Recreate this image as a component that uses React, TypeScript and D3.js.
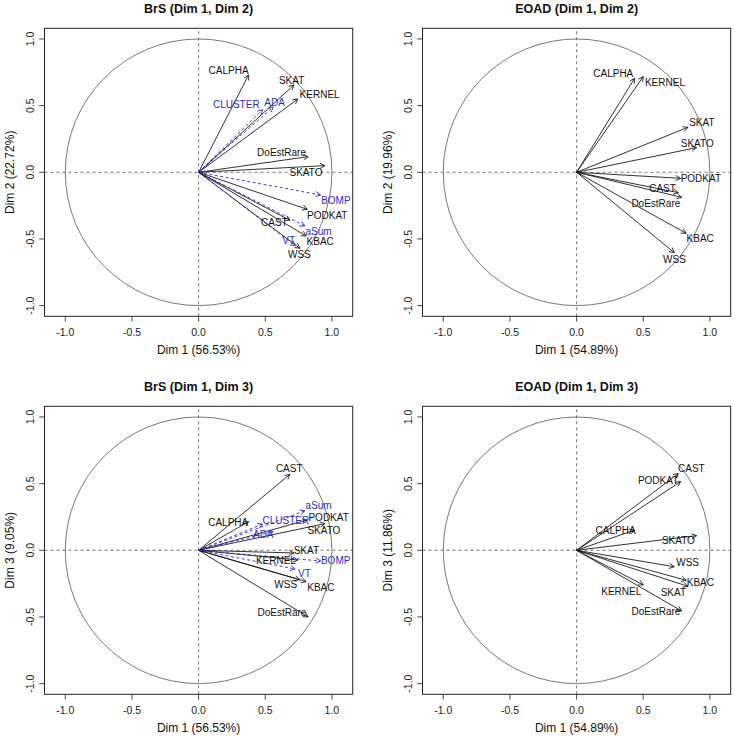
import React from "react";
import * as d3 from "d3";

// ---------- data ----------
const ticks = [-1, -0.5, 0, 0.5, 1];
const tickLabels = ["-1.0", "-0.5", "0.0", "0.5", "1.0"];

const brsPct = [56.53, 22.72, 9.05];
const eoadPct = [54.89, 19.96, 11.86];

// BrS active variables
const brsVars = ["CALPHA", "SKAT", "KERNEL", "DoEstRare", "SKATO", "PODKAT", "CAST", "KBAC", "WSS"];
const brsDim1 = [0.375, 0.715, 0.745, 0.822, 0.948, 0.815, 0.685, 0.807, 0.76];
const brsDim2 = [0.73, 0.655, 0.55, 0.1175, 0.05, -0.2775, -0.36, -0.4775, -0.57];
const brsDim3 = [0.215, -0.02, -0.073, -0.5, 0.2, 0.227, 0.57, -0.235, -0.22];

// BrS supplementary variables
const brsSupVars = ["CLUSTER", "ADA", "BOMP", "aSum", "VT"];
const brsSupDim1 = [0.48, 0.56, 0.915, 0.797, 0.725];
const brsSupDim2 = [0.47, 0.49, -0.17, -0.4025, -0.55];
const brsSupDim3 = [0.197, 0.14, -0.08, 0.297, -0.14];

// EOAD variables
const eoadVars = ["CALPHA", "KERNEL", "SKAT", "SKATO", "PODKAT", "CAST", "DoEstRare", "KBAC", "WSS"];
const eoadDim1 = [0.435, 0.5, 0.835, 0.9, 0.78, 0.763, 0.788, 0.822, 0.733];
const eoadDim2 = [0.705, 0.7175, 0.3375, 0.185, -0.045, -0.1525, -0.1875, -0.4575, -0.6025];
const eoadDim3 = [0.152, -0.26, -0.27, 0.11, 0.515, 0.575, -0.455, -0.225, -0.123];

// ---------- label placement (pixel offsets of label centre from arrow tip) ----------
const labelOffsets: Record<string, Record<string, [number, number]>> = {
  p1: {
    CALPHA: [-20, -4.7], SKAT: [-2.3, -4.7], KERNEL: [21.7, -5], CLUSTER: [-26.3, -5.6], ADA: [1.4, -5],
    DoEstRare: [-26.6, -4.1], SKATO: [-19, 6.7], BOMP: [15.3, 5.3], PODKAT: [20, 5.7], aSum: [13.7, 5.3],
    CAST: [-15.5, 2.2], KBAC: [14, 5.5], VT: [-6.5, -5.4], WSS: [-0.5, 5.9],
  },
  p2: {
    CALPHA: [-21.3, -5], KERNEL: [21.7, 5.5], SKAT: [14, -4.8], SKATO: [0.7, -4.2], PODKAT: [20.3, 0.5],
    CAST: [-15.8, -4.2], DoEstRare: [-25.8, 5.8], KBAC: [14, 5.5], WSS: [0.2, 6.5],
  },
  p3: {
    CAST: [-0.7, -5.5], aSum: [13.8, -4.9], PODKAT: [21.4, -2.5], CLUSTER: [23.3, -3.5], SKATO: [-1.1, 6.4],
    CALPHA: [-20.4, 1.2], ADA: [-10, 2.4], SKAT: [12.5, -2.3], KERNEL: [-22, 0.5], BOMP: [15.1, -0.2],
    VT: [9.2, 4.5], WSS: [-14.2, 4.4], KBAC: [14.7, 6], DoEstRare: [-26.3, -4.5],
  },
  p4: {
    CAST: [13.1, -5.4], PODKAT: [-22.5, -0.8], CALPHA: [-19, 0.5], SKATO: [-18.2, 4.9], WSS: [13.3, -4.5],
    KBAC: [14.2, 1.9], SKAT: [-14.5, 6.2], KERNEL: [-22, 6], DoEstRare: [-25.7, 0.8],
  },
};

const FONT = "'Liberation Sans', Arial, Helvetica, sans-serif";
const BLUE = "#2b2bc0";

type V = { name: string; x: number; y: number; sup: boolean };

function Panel(props: {
  id: string; ox: number; oy: number; title: string; xLab: string; yLab: string; vars: V[];
}) {
  const { id, ox, oy, title, xLab, yLab, vars } = props;
  const x = d3.scaleLinear().domain([-1.156, 1.156]).range([44.5, 352.7]);
  const y = d3.scaleLinear().domain([-1.08, 1.08]).range([316.3, 28.3]);
  const [x0, x1] = x.range();
  const [y0, y1] = y.range();
  const cx = x(0), cy = y(0), r = x(1) - x(0);
  const offs = labelOffsets[id];
  const headLen = 5.5;
  const headAng = (28 * Math.PI) / 180;
  return (
    <g transform={`translate(${ox},${oy})`}>
      <text x={(x0 + x1) / 2} y={13} textAnchor="middle" fontFamily={FONT} fontWeight="bold" fontSize={12.5} fill="#111">
        {title}
      </text>
      {/* circle */}
      <circle cx={cx} cy={cy} r={r} fill="none" stroke="#6a6a6a" strokeWidth={0.9} />
      {/* zero lines */}
      <line x1={x0} x2={x1} y1={cy} y2={cy} stroke="#555" strokeWidth={0.8} strokeDasharray="3,3" />
      <line x1={cx} x2={cx} y1={y0} y2={y1} stroke="#555" strokeWidth={0.8} strokeDasharray="3,3" />
      {/* arrows */}
      {vars.map((v) => {
        const tx = x(v.x), ty = y(v.y);
        const ang = Math.atan2(ty - cy, tx - cx);
        const a1 = ang + Math.PI - headAng, a2 = ang + Math.PI + headAng;
        const col = v.sup ? BLUE : "#1a1a1a";
        return (
          <g key={"a" + v.name}>
            <line x1={cx} y1={cy} x2={tx} y2={ty} stroke={col} strokeWidth={0.9}
              strokeDasharray={v.sup ? "3,2.5" : undefined} />
            <line x1={tx} y1={ty} x2={tx + headLen * Math.cos(a1)} y2={ty + headLen * Math.sin(a1)} stroke={col} strokeWidth={0.9} />
            <line x1={tx} y1={ty} x2={tx + headLen * Math.cos(a2)} y2={ty + headLen * Math.sin(a2)} stroke={col} strokeWidth={0.9} />
          </g>
        );
      })}
      {vars.map((v) => {
        const o = offs[v.name] || [0, -5];
        return (
          <text key={"l" + v.name} x={x(v.x) + o[0]} y={y(v.y) + o[1]} dy="0.36em" textAnchor="middle"
            fontFamily={FONT} fontSize={10} fill={v.sup ? BLUE : "#111"}>
            {v.name}
          </text>
        );
      })}
      {/* box */}
      <rect x={x0} y={y1} width={x1 - x0} height={y0 - y1} fill="none" stroke="#222" strokeWidth={1} />
      {/* x axis */}
      {ticks.map((t, i) => (
        <g key={"xt" + i}>
          <line x1={x(t)} x2={x(t)} y1={y0} y2={y0 + 5.3} stroke="#333" strokeWidth={0.9} />
          <text x={x(t)} y={y0 + 19.3} textAnchor="middle" fontFamily={FONT} fontSize={10.5} fill="#222">
            {tickLabels[i]}
          </text>
        </g>
      ))}
      <text x={(x0 + x1) / 2} y={354} textAnchor="middle" fontFamily={FONT} fontSize={12} fill="#111">
        {xLab}
      </text>
      {/* y axis */}
      {ticks.map((t, i) => (
        <g key={"yt" + i}>
          <line x1={x0} x2={x0 - 5.3} y1={y(t)} y2={y(t)} stroke="#333" strokeWidth={0.9} />
          <text transform={`translate(${x0 - 11},${y(t)}) rotate(-90)`} textAnchor="middle" fontFamily={FONT}
            fontSize={10.5} fill="#222">
            {tickLabels[i]}
          </text>
        </g>
      ))}
      <text transform={`translate(14,${cy}) rotate(-90)`} textAnchor="middle" fontFamily={FONT} fontSize={12} fill="#111">
        {yLab}
      </text>
    </g>
  );
}

function build(names: string[], a: number[], b: number[], sup: boolean): V[] {
  return names.map((n, i) => ({ name: n, x: a[i], y: b[i], sup }));
}

export default function App() {
  const p1 = [...build(brsVars, brsDim1, brsDim2, false), ...build(brsSupVars, brsSupDim1, brsSupDim2, true)];
  const p2 = build(eoadVars, eoadDim1, eoadDim2, false);
  const p3 = [...build(brsVars, brsDim1, brsDim3, false), ...build(brsSupVars, brsSupDim1, brsSupDim3, true)];
  const p4 = build(eoadVars, eoadDim1, eoadDim3, false);
  const lab = (d: number, p: number) => `Dim ${d} (${p.toFixed(2)}%)`;
  return (
    <svg width={735} height={739} style={{ position: "absolute", left: 0, top: 0, background: "#fff" }}>
      <rect width={735} height={739} fill="#fff" />
      <Panel id="p1" ox={0} oy={0} title="BrS (Dim 1, Dim 2)" xLab={lab(1, brsPct[0])} yLab={lab(2, brsPct[1])} vars={p1} />
      <Panel id="p2" ox={378} oy={0} title="EOAD (Dim 1, Dim 2)" xLab={lab(1, eoadPct[0])} yLab={lab(2, eoadPct[1])} vars={p2} />
      <Panel id="p3" ox={0} oy={378} title="BrS (Dim 1, Dim 3)" xLab={lab(1, brsPct[0])} yLab={lab(3, brsPct[2])} vars={p3} />
      <Panel id="p4" ox={378} oy={378} title="EOAD (Dim 1, Dim 3)" xLab={lab(1, eoadPct[0])} yLab={lab(3, eoadPct[2])} vars={p4} />
    </svg>
  );
}
